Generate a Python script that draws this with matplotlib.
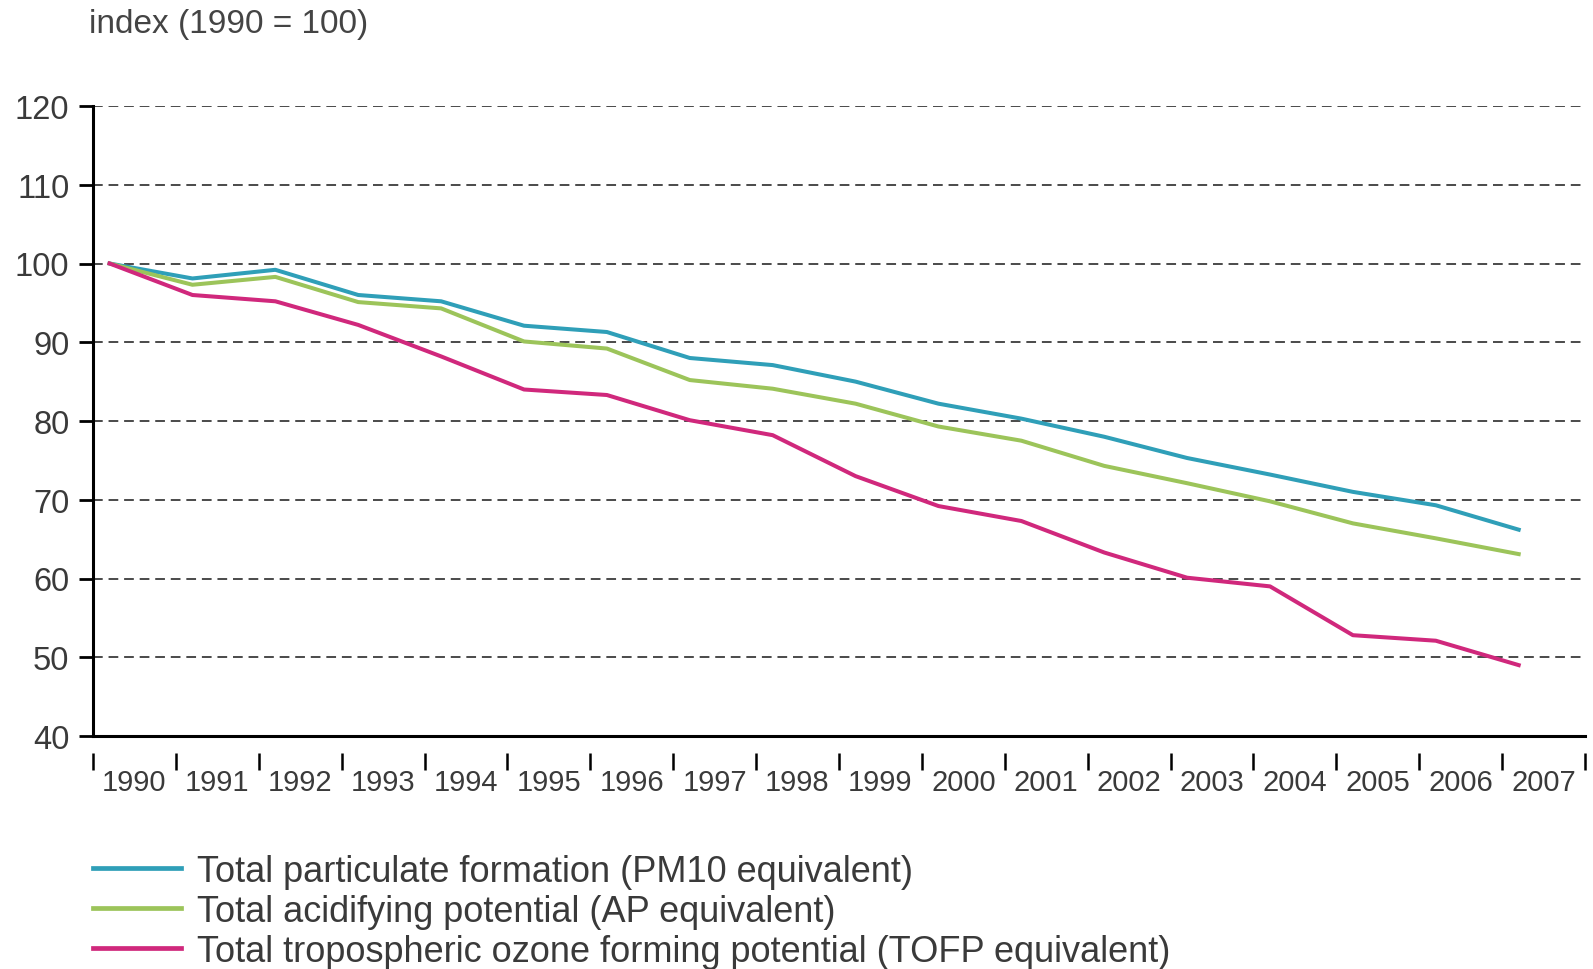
import numpy as np
import matplotlib.pyplot as plt
from matplotlib.ticker import FixedLocator, NullFormatter

years = np.arange(1990, 2008)
pm10 = [100, 98.1, 99.2, 96.0, 95.2, 92.1, 91.3, 88.0, 87.1, 85.0,
        82.2, 80.3, 78.0, 75.3, 73.2, 71.0, 69.3, 66.2]
acid = [100, 97.3, 98.3, 95.1, 94.3, 90.1, 89.2, 85.2, 84.1, 82.2,
        79.3, 77.5, 74.3, 72.1, 69.8, 67.0, 65.1, 63.1]
tofp = [100, 96.0, 95.2, 92.2, 88.2, 84.0, 83.3, 80.1, 78.2, 73.0,
        69.2, 67.3, 63.3, 60.1, 59.0, 52.8, 52.1, 49.0]
labels = ["Total particulate formation (PM10 equivalent)",
          "Total acidifying potential (AP equivalent)",
          "Total tropospheric ozone forming potential (TOFP equivalent)"]
colors = ["#2f9fb8", "#9cc45a", "#d0287c"]
yticks = [40, 50, 60, 70, 80, 90, 100, 110, 120]

plt.rcParams['font.family'] = ['Liberation Sans', 'DejaVu Sans']
txt = "#3a3a3a"

fig = plt.figure(figsize=(15.93, 9.70), dpi=100)
ax = fig.add_axes([93/1593, 1 - 737/970, 1492/1593, 630/970])

for vals, c, lab in zip([pm10, acid, tofp], colors, labels):
    ax.plot(years, vals, color=c, lw=2.9, label=lab, solid_joinstyle='round')

ax.set_xlim(1989.8, 2007.8)
ax.set_ylim(40, 120)

# y axis
ax.set_yticks(yticks)
ax.tick_params(axis='y', direction='out', length=10, width=2, pad=7,
               labelsize=23.5, labelcolor=txt)
ax.grid(axis='y', color='#4a4a4a', linestyle=(0, (5, 3)), lw=1.4)
ax.set_axisbelow(True)
for s in ['top', 'right']:
    ax.spines[s].set_visible(False)
ax.spines['left'].set_linewidth(2.2)

# x axis: boundary ticks below the axis line, labels between them
ax.spines['bottom'].set_position(('outward', 12))
ax.spines['bottom'].set_visible(False)
ax.axhline(40, color='black', lw=2.2, clip_on=False, zorder=5)
ax.xaxis.set_minor_locator(FixedLocator(np.append(years, 2008) - 0.2))
ax.xaxis.set_minor_formatter(NullFormatter())
ax.xaxis.set_major_locator(FixedLocator(years + 0.3))
ax.set_xticklabels([str(y) for y in years])
ax.tick_params(axis='x', which='minor', direction='out', length=12, width=1.8)
ax.tick_params(axis='x', which='major', length=0, pad=11, labelsize=21,
               labelcolor=txt)

fig.text(89/1593, 1 - 25/970, "index (1990 = 100)", fontsize=24, color="#444444",
         va='center', ha='left')

leg = fig.legend(loc='upper left', bbox_to_anchor=(93/1593, 1 - 855/970), frameon=False,
                 handlelength=2.45, handletextpad=0.42, labelspacing=0.14,
                 borderpad=0, borderaxespad=0, labelcolor=txt,
                 prop={'size': 26})
for h in leg.get_lines():
    h.set_linewidth(3.4)

fig.savefig("out.png", dpi=100)
